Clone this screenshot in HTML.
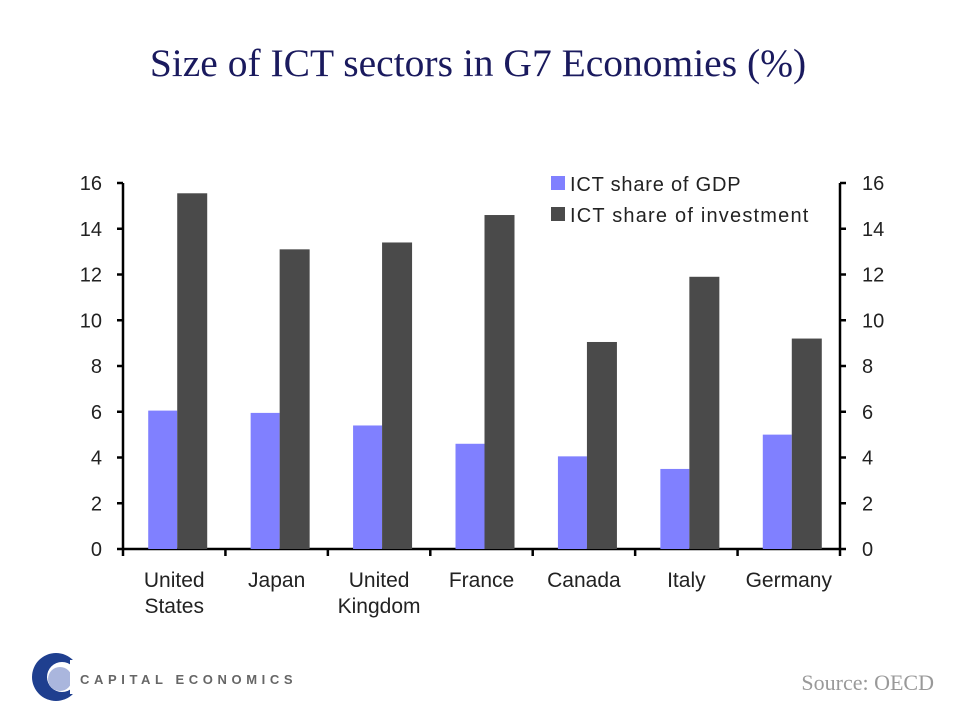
<!DOCTYPE html>
<html><head><meta charset="utf-8"><style>
body{margin:0;background:#fff;width:960px;height:720px;overflow:hidden}
svg text{font-family:"Liberation Sans",sans-serif}
</style></head><body>
<svg id="c" width="960" height="720" xmlns="http://www.w3.org/2000/svg">
<text x="478" y="76" text-anchor="middle" font-size="39.5" fill="#1a1a5e" style="font-family:'Liberation Serif',serif">Size of ICT sectors in G7 Economies (%)</text>
<g id="plot"></g>
<g>
<rect x="551" y="176" width="14" height="14" fill="#8080ff"/>
<text x="570" y="191" font-size="20" fill="#222" letter-spacing="0.8">ICT share of GDP</text>
<rect x="551" y="207" width="14" height="14" fill="#4a4a4a"/>
<text x="570" y="222" font-size="20" fill="#222" letter-spacing="1.2">ICT share of investment</text>
</g>
<g>
<circle cx="56" cy="677" r="24" fill="#1f3f8f"/>
<circle cx="62" cy="677" r="15" fill="#fff"/>
<circle cx="60" cy="679" r="12" fill="#aab6dd"/>
<rect x="70" y="660" width="12" height="34" fill="#fff"/>
<text x="80" y="684" font-size="13" font-weight="bold" fill="#666" letter-spacing="4.6">CAPITAL ECONOMICS</text>
</g>
<text x="934" y="690" text-anchor="end" font-size="22" fill="#999" style="font-family:'Liberation Serif',serif">Source: OECD</text>
</svg>
<script>
const categories=[["United","States"],["Japan"],["United","Kingdom"],["France"],["Canada"],["Italy"],["Germany"]];
const gdpShare=[6.05,5.95,5.4,4.6,4.05,3.5,5.0];
const invShare=[15.55,13.1,13.4,14.6,9.05,11.9,9.2];
const yTicks=[0,2,4,6,8,10,12,14,16];
const NS="http://www.w3.org/2000/svg";
const g=document.getElementById('plot');
const L=123,R=840,T=183,B=549,ymax=16;
const y=v=>B-(v/ymax)*(B-T);
const bw=(R-L)/categories.length;
const x=i=>L+i*bw;
function mk(tag,a){const e=document.createElementNS(NS,tag);for(const k in a)e.setAttribute(k,a[k]);g.appendChild(e);return e;}
let e;
e=mk('line',{x1:L,y1:T,x2:L,y2:B,stroke:'#000','stroke-width':2.5});


e=mk('line',{x1:R,y1:T,x2:R,y2:B,stroke:'#000','stroke-width':2.5});


e=mk('line',{x1:L,y1:B,x2:R,y2:B,stroke:'#000','stroke-width':2.5});


yTicks.forEach(t=>{
 mk('line',{x1:L-6,x2:L,y1:y(t),y2:y(t),stroke:'#000','stroke-width':2.5});
 mk('line',{x1:R,x2:R+6,y1:y(t),y2:y(t),stroke:'#000','stroke-width':2.5});
 e=mk('text',{x:102,y:y(t)+7,'text-anchor':'end','font-size':20,fill:'#222'});e.textContent=t;
 
 
 e=mk('text',{x:862,y:y(t)+7,'font-size':20,fill:'#222'});e.textContent=t;
 
 
});
for(let i=0;i<=categories.length;i++)mk('line',{x1:x(i),x2:x(i),y1:B,y2:B+7,stroke:'#000','stroke-width':2.5});
categories.forEach((c,i)=>{
 const cx=x(i)+bw/2;
 e=mk('rect',{x:cx-26,y:y(gdpShare[i]),width:29,height:B-y(gdpShare[i]),fill:'#8080ff'});
 
 
 e=mk('rect',{x:cx+3,y:y(invShare[i]),width:30,height:B-y(invShare[i]),fill:'#4a4a4a'});
 
 
 c.forEach((line,j)=>{
  e=mk('text',{x:cx,y:587+j*26,'text-anchor':'middle','font-size':21,fill:'#222'});e.textContent=line;
  
  
 });
});
</script>
</body></html>
